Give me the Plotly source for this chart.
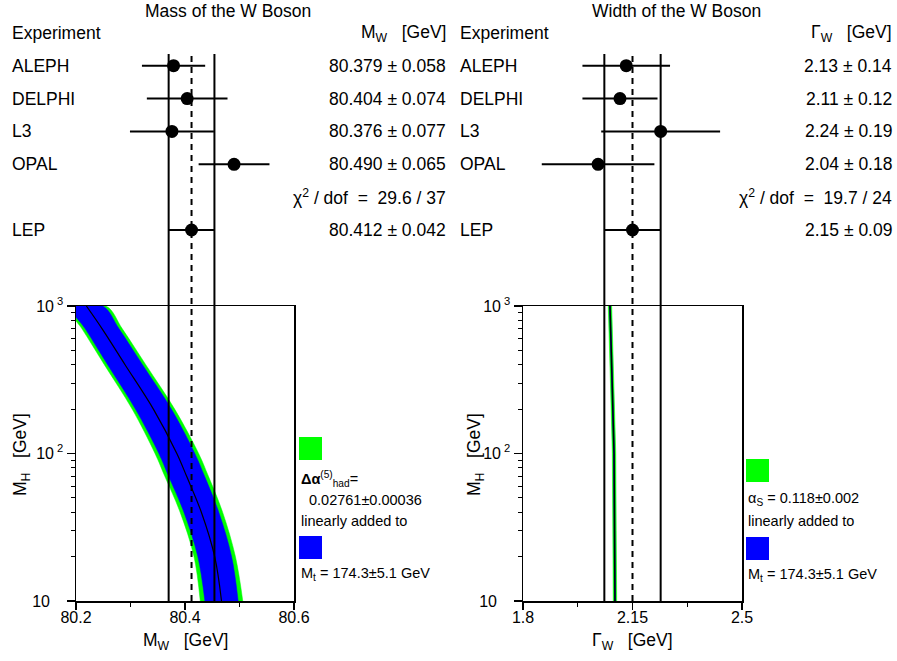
import plotly.graph_objects as go

W, H = 897, 661
FONT = "Liberation Sans, Arial, sans-serif"


def px(x):
    return x / W


def py(y):
    return 1 - y / H


# ---------------- data ----------------
experiments = ["ALEPH", "DELPHI", "L3", "OPAL"]
mw_vals = [80.379, 80.404, 80.376, 80.490]
mw_errs = [0.058, 0.074, 0.077, 0.065]
mw_lep = 80.412
mw_lep_err = 0.042
mw_chi2 = "29.6 / 37"

gw_vals = [2.13, 2.11, 2.24, 2.04]
gw_errs = [0.14, 0.12, 0.19, 0.18]
gw_lep = 2.15
gw_lep_err = 0.09
gw_chi2 = "19.7 / 24"

# SM prediction band for M_W vs M_H
mh_band = [10, 20, 40, 70, 100, 200, 400, 700, 1000]
mw_center = [80.467, 80.4545, 80.430, 80.403, 80.385, 80.342, 80.290, 80.248, 80.219]
mw_blue_hw = [0.0305, 0.031, 0.032, 0.033, 0.033, 0.033, 0.032, 0.031, 0.030]
mw_green_hw = [0.039, 0.038, 0.039, 0.040, 0.040, 0.039, 0.038, 0.037, 0.036]

# SM prediction band for Gamma_W vs M_H
mh_gw = [10, 30, 100, 300, 1000]
gw_center = [2.094, 2.0925, 2.091, 2.085, 2.078]
gw_blue_hw = [0.0015, 0.0015, 0.0015, 0.0015, 0.0015]
gw_green_hw = [0.0055, 0.0055, 0.0055, 0.0055, 0.0055]

# rows in the top panel
exp_rows = [0, 1, 2, 3]
chi2_row = 4
lep_row = 5

fig = go.Figure()


def add_band(xa, ya, mh, center, hw, color, shape):
    lo = [c - h for c, h in zip(center, hw)]
    hi = [c + h for c, h in zip(center, hw)]
    fig.add_trace(go.Scatter(
        x=lo + hi[::-1], y=mh + mh[::-1], mode="lines", fill="toself",
        fillcolor=color, line=dict(color=color, width=0.5, shape=shape),
        xaxis=xa, yaxis=ya, hoverinfo="skip", showlegend=False))


# bands
add_band("x", "y", mh_band, mw_center, mw_green_hw, "#00ff00", "spline")
add_band("x", "y", mh_band, mw_center, mw_blue_hw, "#0000ff", "spline")
fig.add_trace(go.Scatter(x=mw_center, y=mh_band, mode="lines",
                         line=dict(color="black", width=1.2, shape="spline"),
                         xaxis="x", yaxis="y", showlegend=False))

add_band("x3", "y3", mh_gw, gw_center, gw_green_hw, "#00ff00", "linear")
add_band("x3", "y3", mh_gw, gw_center, gw_blue_hw, "#0000ff", "linear")
fig.add_trace(go.Scatter(x=gw_center, y=mh_gw, mode="lines",
                         line=dict(color="black", width=1.5),
                         xaxis="x3", yaxis="y3", showlegend=False))

# measurements
for xa, ya, vals, errs, lep, lerr in [
        ("x", "y2", mw_vals, mw_errs, mw_lep, mw_lep_err),
        ("x3", "y4", gw_vals, gw_errs, gw_lep, gw_lep_err)]:
    fig.add_trace(go.Scatter(
        x=vals + [lep], y=exp_rows + [lep_row], mode="markers",
        marker=dict(color="black", size=13),
        error_x=dict(type="data", array=errs + [lerr], color="black",
                     thickness=2, width=0),
        xaxis=xa, yaxis=ya, cliponaxis=False, showlegend=False))

# vertical lines: LEP average band and central value
shapes = []
for xr, c, e in [("x", mw_lep, mw_lep_err), ("x3", gw_lep, gw_lep_err)]:
    for xv, dash in [(c - e, "solid"), (c + e, "solid"), (c, "6px,5px")]:
        shapes.append(dict(type="line", xref=xr, yref="paper", x0=xv, x1=xv,
                           y0=py(601), y1=py(54),
                           line=dict(color="black", width=2, dash=dash)))

# legend squares
for x0, y0, col in [(299, 437, "#00ff00"), (299, 536, "#0000ff"),
                    (746, 459, "#00ff00"), (746, 537, "#0000ff")]:
    shapes.append(dict(type="rect", xref="paper", yref="paper",
                       x0=px(x0), x1=px(x0 + 23), y0=py(y0 + 23), y1=py(y0),
                       fillcolor=col, line=dict(width=0)))

ann = []


def text(x, y, s, size=17.5, anchor="left", yref="paper", angle=0):
    ann.append(dict(x=x, y=y, xref="paper", yref=yref, text=s, showarrow=False,
                    xanchor=anchor, yanchor="middle", textangle=angle,
                    font=dict(family=FONT, size=size, color="black")))


NB = "\u00a0"
# left panel texts
text(px(228), py(11), "Mass of the W Boson", anchor="center")
text(px(10), py(33), "Experiment")
text(px(448), py(33), "M<sub>W</sub>" + NB * 3 + "[GeV]", anchor="right")
for r, name, v, e in zip(exp_rows, experiments, mw_vals, mw_errs):
    text(px(10), r, name, yref="y2")
    text(px(448), r, f"{v:.3f} ± {e:.3f}", anchor="right", yref="y2")
text(px(448), chi2_row, "χ<sup>2</sup> / dof" + NB + " = " + NB + mw_chi2, anchor="right", yref="y2")
text(px(10), lep_row, "LEP", yref="y2")
text(px(448), lep_row, f"{mw_lep:.3f} ± {mw_lep_err:.3f}", anchor="right", yref="y2")

# right panel texts
text(px(676), py(11), "Width of the W Boson", anchor="center")
text(px(458), py(33), "Experiment")
text(px(894), py(33), "Γ<sub>W</sub>" + NB * 3 + "[GeV]", anchor="right")
for r, name, v, e in zip(exp_rows, experiments, gw_vals, gw_errs):
    text(px(458), r, name, yref="y4")
    text(px(894), r, f"{v:.2f} ± {e:.2f}", anchor="right", yref="y4")
text(px(894), chi2_row, "χ<sup>2</sup> / dof" + NB + " = " + NB + gw_chi2, anchor="right", yref="y4")
text(px(458), lep_row, "LEP", yref="y4")
text(px(894), lep_row, f"{gw_lep:.2f} ± {gw_lep_err:.2f}", anchor="right", yref="y4")

# axis titles
text(px(185), py(641), "M<sub>W</sub>" + NB * 3 + "[GeV]", anchor="center")
text(px(632), py(641), "Γ<sub>W</sub>" + NB * 3 + "[GeV]", anchor="center")
text(px(22), py(455), "M<sub>H</sub>" + NB * 3 + "[GeV]", anchor="center", angle=-90)
text(px(476), py(455), "M<sub>H</sub>" + NB * 3 + "[GeV]", anchor="center", angle=-90)

# legends
LS = 14.5
text(px(299), py(479), "<b>Δα</b><sup>(5)</sup><sub>had</sub>=", size=LS)
text(px(307), py(500), "0.02761±0.00036", size=LS)
text(px(299), py(521), "linearly added to", size=LS)
text(px(299), py(574), "M<sub>t</sub> = 174.3±5.1 GeV", size=LS)
text(px(746), py(499), "α<sub>S</sub> = 0.118±0.002", size=LS)
text(px(746), py(521), "linearly added to", size=LS)
text(px(746), py(575), "M<sub>t</sub> = 174.3±5.1 GeV", size=LS)

common_x = dict(showline=True, linecolor="black", linewidth=1.5, mirror=True,
                ticks="outside", ticklen=7, tickwidth=1.2, tickcolor="black",
                showgrid=False, zeroline=False, automargin=False,
                ticklabelstandoff=-6,
                tickfont=dict(family=FONT, size=16, color="black"))
common_y = dict(type="log", range=[1, 3], domain=[py(601), py(306)],
                showline=True, linecolor="black", linewidth=1.5, mirror=True,
                ticks="outside", ticklen=8, tickwidth=1.2, tickcolor="black",
                tickvals=[10, 100, 1000],
                ticktext=["10" + NB * 3, "10<sup>" + NB + "2</sup>", "10<sup>" + NB + "3</sup>"],
                minor=dict(ticks="outside", ticklen=4, tickwidth=1, tickcolor="black",
                           dtick="D1", showgrid=False),
                showgrid=False, zeroline=False, automargin=False,
                tickfont=dict(family=FONT, size=16, color="black"))

fig.update_layout(
    width=W, height=H, margin=dict(l=0, r=0, t=0, b=0, pad=0, autoexpand=False),
    paper_bgcolor="white", plot_bgcolor="rgba(0,0,0,0)",
    showlegend=False, hovermode=False,
    xaxis=dict(domain=[px(76), px(294)], range=[80.2, 80.6], anchor="y",
               tickvals=[80.2, 80.4, 80.6], ticktext=["80.2", "80.4", "80.6"],
               minor=dict(ticks="outside", ticklen=4, tickwidth=1, tickcolor="black",
                          dtick=0.1, tick0=80.2, showgrid=False),
               **common_x),
    yaxis=dict(anchor="x", **common_y),
    yaxis2=dict(domain=[py(306), py(54)], range=[7.313, -0.356], anchor="x",
                visible=False, automargin=False),
    xaxis3=dict(domain=[px(523), px(742)], range=[1.8, 2.5], anchor="y3",
                tickvals=[1.8, 2.15, 2.5], ticktext=["1.8", "2.15", "2.5"],
                minor=dict(ticks="outside", ticklen=4, tickwidth=1, tickcolor="black",
                           dtick=0.175, tick0=1.8, showgrid=False),
                **common_x),
    yaxis3=dict(anchor="x3", **common_y),
    yaxis4=dict(domain=[py(306), py(54)], range=[7.313, -0.356], anchor="x3",
                visible=False, automargin=False),
    shapes=shapes,
    annotations=ann,
)

# remove the default 8px page margin so the 897x661 figure fills the window exactly
fig.write_html("out.html", config={"displayModeBar": False, "staticPlot": True},
               post_script="document.body.style.margin='0';document.body.style.overflow='hidden';")
